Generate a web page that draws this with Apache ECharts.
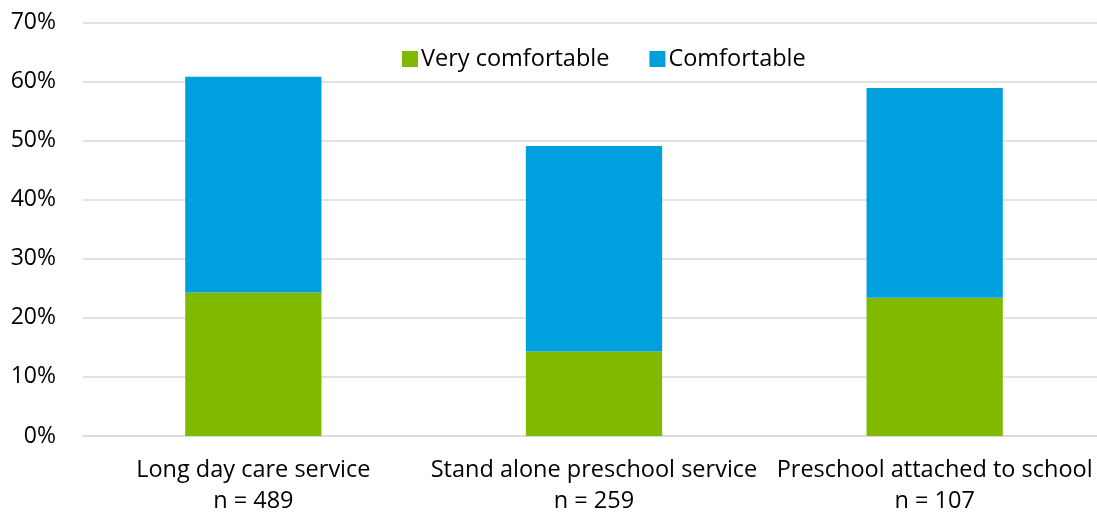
<!DOCTYPE html>
<html><head><meta charset="utf-8">
<script src="https://cdn.jsdelivr.net/npm/echarts@6/dist/echarts.min.js"></script>
<style>html,body{margin:0;padding:0;background:#fff;overflow:hidden}#c{width:1105px;height:517px}</style>
</head><body><div id="c"></div>
<script>
const categories = ["Long day care service\nn = 489", "Stand alone preschool service\nn = 259", "Preschool attached to school\nn = 107"];
const veryComfortable = [24.3, 14.3, 23.4];
const comfortable = [36.5, 34.8, 35.5];
const yTicks = [0, 10, 20, 30, 40, 50, 60, 70];
const FONT = "Open Sans";
const chart = echarts.init(document.getElementById('c'));
chart.setOption({
  animation: false,
  textStyle: { fontFamily: FONT },
  grid: { left: 83, right: 0, top: 22.5, bottom: 81, containLabel: false },
  legend: {
    top: 42, left: 397,
    itemWidth: 16, itemHeight: 16, itemGap: 40,
    icon: 'rect',
    textStyle: { fontSize: 23.5, color: '#000', fontFamily: FONT, padding: [0,0,0,-2] },
    data: ['Very comfortable', 'Comfortable']
  },
  xAxis: {
    type: 'category', data: categories,
    axisLine: { lineStyle: { color: '#D9D9D9', width: 1.5 } },
    axisTick: { show: false },
    axisLabel: { interval: 0, fontSize: 23.5, color: '#000', lineHeight: 31, margin: 19, fontFamily: FONT }
  },
  yAxis: {
    type: 'value', min: yTicks[0], max: yTicks[yTicks.length-1], interval: 10,
    axisLine: { show: false }, axisTick: { show: false },
    splitLine: { lineStyle: { color: '#D9D9D9', width: 1.5 } },
    axisLabel: { formatter: '{value}%', fontSize: 23, color: '#000', margin: 27, fontFamily: FONT }
  },
  series: [
    { name: 'Very comfortable', type: 'bar', stack: 's', data: veryComfortable, barWidth: '40%', itemStyle: { color: '#7FBA00' } },
    { name: 'Comfortable', type: 'bar', stack: 's', data: comfortable, barWidth: '40%', itemStyle: { color: '#00A0DF' } }
  ]
});
</script></body></html>
